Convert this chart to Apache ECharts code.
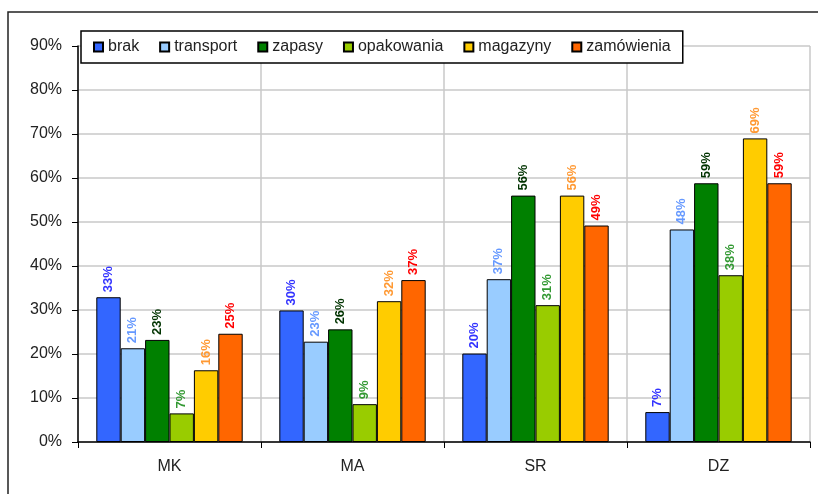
<!DOCTYPE html>
<html>
<head>
<meta charset="utf-8">
<script src="https://cdn.jsdelivr.net/npm/echarts@6/dist/echarts.min.js"></script>
<style>
  html, body { margin: 0; padding: 0; background: #fff; }
  #chart { width: 818px; height: 494px; }
</style>
</head>
<body>
<div id="chart"></div>
<script>
// categories and series (percent values)
const categories = ["MK", "MA", "SR", "DZ"];
const seriesNames = ["brak", "transport", "zapasy", "opakowania", "magazyny", "zamówienia"];
const brak = [32.9, 29.9, 20.1, 6.8];
const transport = [21.3, 22.8, 37.0, 48.3];
const zapasy = [23.2, 25.6, 56.0, 58.8];
const opakowania = [6.5, 8.6, 31.1, 37.9];
const magazyny = [16.3, 32.0, 56.0, 69.0];
const zamowienia = [24.6, 36.8, 49.2, 58.8];

const barColors = ["#3366ff", "#99ccff", "#008000", "#99cc00", "#ffcc00", "#ff6600"];
const labelColors = ["#3333ff", "#6699ff", "#003300", "#339933", "#ff9933", "#ff0000"];
const values = [brak, transport, zapasy, opakowania, magazyny, zamowienia];

const font = "Liberation Sans, Arial, sans-serif";

const chart = echarts.init(document.getElementById("chart"));

const series = seriesNames.map(function (name, i) {
    return {
        name: name,
        type: "bar",
        data: values[i],
        barGap: "0%",
        barCategoryGap: "20%",
        itemStyle: {
            color: barColors[i],
            borderColor: "#000",
            borderWidth: 1,
        },
        label: {
            show: true,
            position: "top",
            rotate: 90,
            align: "left",
            verticalAlign: "middle",
            distance: 5,
            color: labelColors[i],
            fontFamily: font,
            fontWeight: "bold",
            fontSize: 13,
            formatter: function (p) {
                return Math.round(p.value) + "%";
            },
        },
    };
});

chart.setOption({
    animation: false,
    textStyle: { fontFamily: font },
    graphic: [
        {
            type: "rect",
            shape: { x: 8, y: 12, width: 830, height: 500 },
            style: { fill: null, stroke: "#222", lineWidth: 1.5 },
            z: 100,
        },
    ],
    legend: {
        left: 81,
        top: 31,
        itemWidth: 9,
        itemHeight: 9,
        itemGap: 20,
        padding: [8, 12, 8, 12],
        backgroundColor: "#fff",
        borderColor: "#000",
        borderWidth: 1.5,
        textStyle: { fontSize: 16, color: "#222", fontFamily: font },
        icon: "rect",
    },
    grid: {
        left: 78,
        right: 8,
        top: 46,
        bottom: 52,
    },
    xAxis: {
        type: "category",
        data: categories,
        axisLine: { lineStyle: { color: "#000", width: 1.5 } },
        axisTick: { show: true, length: 6, lineStyle: { color: "#000" } },
        axisLabel: { fontSize: 16, color: "#222", margin: 17 },
        splitLine: { show: true, lineStyle: { color: "#c8c8c8", width: 1.5 } },
    },
    yAxis: {
        type: "value",
        min: 0,
        max: 90,
        interval: 10,
        axisLine: { show: true, lineStyle: { color: "#000", width: 1.5 } },
        axisTick: { show: true, length: 6, lineStyle: { color: "#000" } },
        axisLabel: { fontSize: 16, color: "#222", margin: 16, formatter: "{value}%" },
        splitLine: { lineStyle: { color: "#c8c8c8", width: 1.5 } },
    },
    series: series,
});
</script>
</body>
</html>
